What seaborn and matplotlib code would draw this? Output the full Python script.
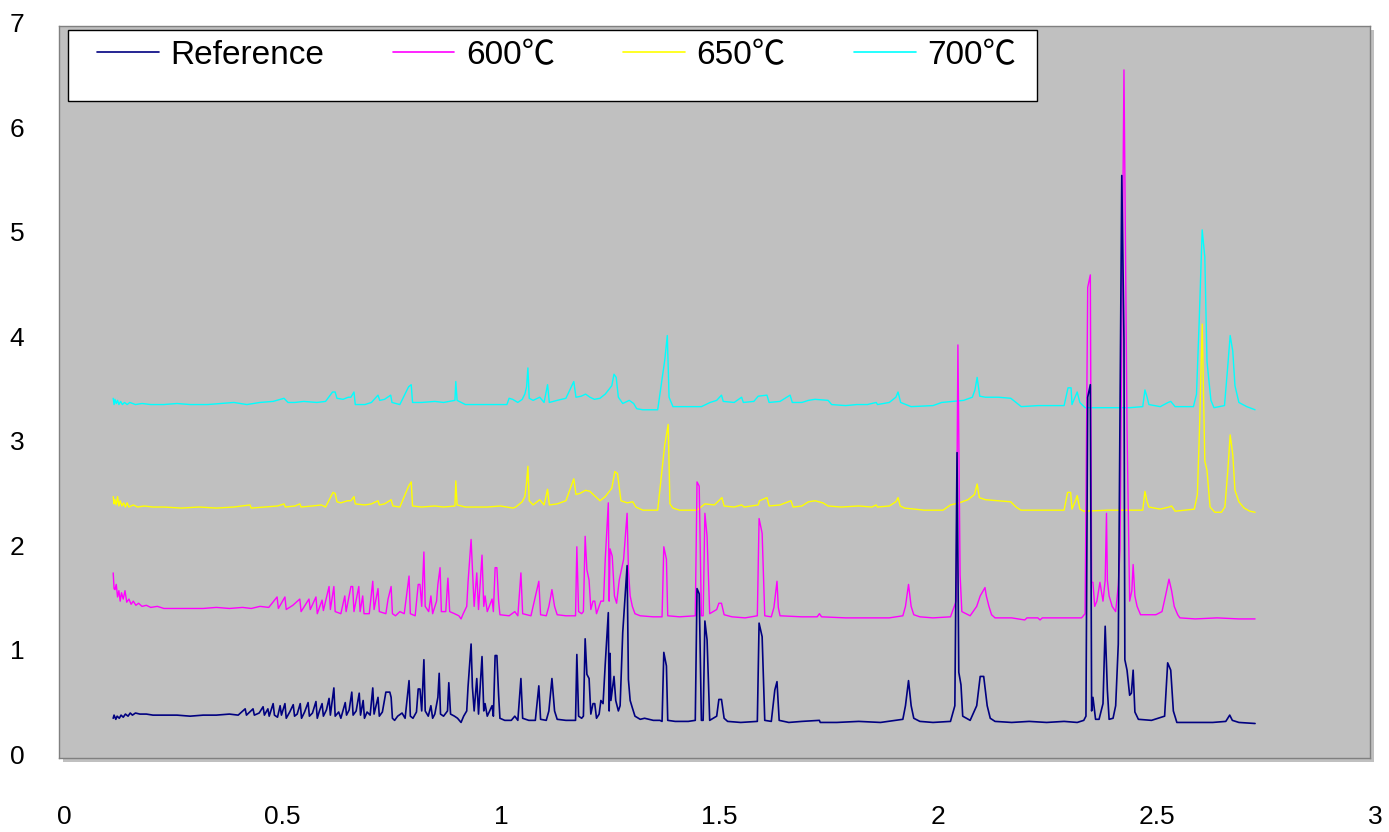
import matplotlib
matplotlib.use('Agg')
import matplotlib.pyplot as plt
from matplotlib.patches import Rectangle
from matplotlib.lines import Line2D
from matplotlib.transforms import ScaledTranslation
import seaborn as sns
import pandas as pd

sns.set_style('white')
plt.rcParams['font.family'] = ['Liberation Sans', 'Noto Sans CJK JP', 'DejaVu Sans']
plt.rcParams['text.color'] = 'black'
plt.rcParams['xtick.color'] = 'black'
plt.rcParams['ytick.color'] = 'black'

series_names = ['Reference', '600℃', '650℃', '700℃']
series_colors = ['#000080', '#FF00FF', '#FFFF00', '#00FFFF']

x_ticks = [0, 0.5, 1, 1.5, 2, 2.5, 3]
x_tick_labels = ['0', '0.5', '1', '1.5', '2', '2.5', '3']
y_ticks = [0, 1, 2, 3, 4, 5, 6, 7]

# Reference
ref_x = [0.124, 0.126, 0.130, 0.133, 0.138, 0.142, 0.147, 0.152, 0.158, 0.163, 0.168, 0.175, 0.185, 0.200,
         0.215, 0.240, 0.270, 0.300, 0.330, 0.360, 0.390, 0.410, 0.426, 0.429, 0.444, 0.447, 0.458, 0.467,
         0.470, 0.478, 0.481, 0.490, 0.493, 0.500, 0.506, 0.509, 0.517, 0.520, 0.528, 0.536, 0.539, 0.545,
         0.552, 0.555, 0.562, 0.570, 0.573, 0.580, 0.588, 0.591, 0.596, 0.602, 0.605, 0.612, 0.618, 0.621,
         0.629, 0.632, 0.640, 0.645, 0.655, 0.658, 0.664, 0.670, 0.673, 0.680, 0.687, 0.690, 0.696, 0.699,
         0.705, 0.712, 0.718, 0.721, 0.730, 0.733, 0.740, 0.748, 0.757, 0.760, 0.763, 0.768, 0.775, 0.785,
         0.792, 0.801, 0.804, 0.810, 0.818, 0.822, 0.826, 0.830, 0.835, 0.838, 0.845, 0.851, 0.855, 0.860,
         0.867, 0.870, 0.873, 0.880, 0.889, 0.892, 0.896, 0.905, 0.912, 0.920, 0.926, 0.933, 0.936, 0.943,
         0.946, 0.950, 0.956, 0.960, 0.968, 0.972, 0.975, 0.980, 0.991, 0.994, 0.998, 1.002, 1.006, 1.009,
         1.020, 1.035, 1.043, 1.050, 1.057, 1.061, 1.075, 1.090, 1.098, 1.102, 1.115, 1.121, 1.128, 1.134,
         1.140, 1.160, 1.182, 1.185, 1.189, 1.196, 1.200, 1.204, 1.208, 1.213, 1.217, 1.222, 1.226, 1.230,
         1.236, 1.240, 1.245, 1.250, 1.257, 1.259, 1.261, 1.263, 1.270, 1.274, 1.280, 1.284, 1.290, 1.300,
         1.303, 1.307, 1.312, 1.318, 1.330, 1.340, 1.360, 1.375, 1.380, 1.384, 1.390, 1.393, 1.410, 1.440,
         1.456, 1.460, 1.465, 1.470, 1.474, 1.478, 1.483, 1.489, 1.505, 1.510, 1.516, 1.522, 1.530, 1.560,
         1.598, 1.602, 1.609, 1.615, 1.630, 1.638, 1.643, 1.648, 1.670, 1.700, 1.740, 1.742, 1.780, 1.830,
         1.880, 1.931, 1.937, 1.944, 1.950, 1.956, 1.970, 2.000, 2.040, 2.050, 2.055, 2.059, 2.064, 2.068,
         2.085, 2.100, 2.108, 2.116, 2.124, 2.131, 2.142, 2.180, 2.220, 2.260, 2.300, 2.330, 2.345, 2.350,
         2.354, 2.360, 2.363, 2.366, 2.372, 2.380, 2.389, 2.394, 2.399, 2.403, 2.412, 2.418, 2.424, 2.432,
         2.437, 2.439, 2.444, 2.450, 2.454, 2.458, 2.462, 2.470, 2.500, 2.530, 2.537, 2.544, 2.550, 2.558,
         2.600, 2.640, 2.670, 2.676, 2.679, 2.685, 2.700, 2.737]
ref_y = [0.38, 0.41, 0.37, 0.40, 0.38, 0.41, 0.39, 0.42, 0.40, 0.43, 0.41, 0.43, 0.42, 0.42,
         0.41, 0.41, 0.41, 0.40, 0.41, 0.41, 0.42, 0.41, 0.47, 0.41, 0.47, 0.41, 0.43, 0.49,
         0.41, 0.47, 0.40, 0.52, 0.41, 0.39, 0.50, 0.41, 0.52, 0.38, 0.44, 0.51, 0.40, 0.42,
         0.52, 0.38, 0.44, 0.53, 0.40, 0.43, 0.54, 0.38, 0.45, 0.52, 0.40, 0.46, 0.57, 0.41,
         0.67, 0.40, 0.44, 0.38, 0.53, 0.41, 0.46, 0.63, 0.41, 0.45, 0.62, 0.41, 0.55, 0.38,
         0.44, 0.41, 0.67, 0.42, 0.58, 0.40, 0.44, 0.63, 0.63, 0.58, 0.38, 0.36, 0.40, 0.43,
         0.38, 0.74, 0.40, 0.38, 0.44, 0.66, 0.66, 0.45, 0.94, 0.45, 0.40, 0.50, 0.38, 0.42,
         0.58, 0.81, 0.42, 0.40, 0.45, 0.72, 0.42, 0.40, 0.38, 0.34, 0.40, 0.45, 0.68, 1.09,
         0.68, 0.45, 0.76, 0.42, 0.97, 0.45, 0.52, 0.40, 0.50, 0.40, 0.98, 0.98, 0.60, 0.38,
         0.36, 0.36, 0.40, 0.36, 0.76, 0.38, 0.36, 0.36, 0.69, 0.37, 0.36, 0.45, 0.76, 0.45,
         0.37, 0.36, 0.36, 0.99, 0.40, 0.38, 0.40, 1.14, 0.80, 0.76, 0.42, 0.52, 0.52, 0.38,
         0.42, 0.55, 0.52, 0.90, 1.39, 0.45, 1.00, 0.55, 0.78, 0.55, 0.45, 0.50, 1.20, 1.84,
         0.75, 0.55, 0.48, 0.40, 0.37, 0.38, 0.36, 0.36, 0.35, 1.01, 0.88, 0.36, 0.35, 0.35,
         0.36, 1.62, 1.57, 0.36, 0.36, 1.31, 1.13, 0.36, 0.40, 0.56, 0.56, 0.38, 0.35, 0.34,
         0.35, 1.29, 1.16, 0.36, 0.35, 0.65, 0.73, 0.36, 0.34, 0.35, 0.36, 0.34, 0.34, 0.35,
         0.34, 0.37, 0.50, 0.74, 0.50, 0.38, 0.35, 0.34, 0.35, 0.50, 2.92, 0.82, 0.70, 0.40,
         0.36, 0.50, 0.78, 0.78, 0.50, 0.38, 0.35, 0.34, 0.35, 0.34, 0.35, 0.34, 0.36, 0.40,
         3.45, 3.57, 0.45, 0.58, 0.37, 0.37, 0.52, 1.26, 0.65, 0.37, 0.38, 0.50, 1.09, 5.57,
         4.00, 0.94, 0.84, 0.60, 0.62, 0.84, 0.44, 0.37, 0.36, 0.40, 0.91, 0.84, 0.45, 0.34,
         0.34, 0.34, 0.35, 0.39, 0.41, 0.36, 0.34, 0.33]

# 600 C
m600_x = [0.124, 0.126, 0.128, 0.131, 0.134, 0.137, 0.140, 0.143, 0.147, 0.151, 0.155, 0.160, 0.165, 0.170,
          0.176, 0.182, 0.190, 0.200, 0.210, 0.225, 0.240, 0.270, 0.300, 0.330, 0.360, 0.390, 0.420, 0.440,
          0.460, 0.480, 0.499, 0.502, 0.517, 0.520, 0.535, 0.551, 0.554, 0.572, 0.575, 0.588, 0.591, 0.602,
          0.605, 0.618, 0.621, 0.629, 0.632, 0.645, 0.654, 0.657, 0.668, 0.672, 0.675, 0.686, 0.689, 0.695,
          0.698, 0.710, 0.718, 0.721, 0.730, 0.733, 0.748, 0.753, 0.760, 0.763, 0.770, 0.780, 0.790, 0.801,
          0.804, 0.815, 0.822, 0.826, 0.830, 0.835, 0.838, 0.846, 0.851, 0.855, 0.864, 0.867, 0.872, 0.875,
          0.885, 0.890, 0.894, 0.905, 0.915, 0.920, 0.925, 0.933, 0.936, 0.943, 0.947, 0.950, 0.956, 0.960,
          0.968, 0.972, 0.975, 0.980, 0.991, 0.994, 0.998, 1.002, 1.006, 1.009, 1.030, 1.043, 1.050, 1.057,
          1.061, 1.080, 1.098, 1.102, 1.115, 1.121, 1.128, 1.134, 1.140, 1.160, 1.182, 1.185, 1.189, 1.196,
          1.200, 1.204, 1.208, 1.213, 1.217, 1.222, 1.226, 1.230, 1.240, 1.246, 1.250, 1.257, 1.259, 1.261,
          1.266, 1.271, 1.276, 1.282, 1.292, 1.300, 1.303, 1.307, 1.312, 1.318, 1.330, 1.360, 1.380, 1.384,
          1.390, 1.393, 1.420, 1.456, 1.460, 1.465, 1.470, 1.474, 1.478, 1.483, 1.489, 1.505, 1.510, 1.516,
          1.522, 1.540, 1.570, 1.598, 1.602, 1.609, 1.615, 1.630, 1.636, 1.643, 1.646, 1.650, 1.700, 1.735,
          1.740, 1.745, 1.800, 1.850, 1.900, 1.931, 1.937, 1.944, 1.950, 1.956, 1.970, 2.000, 2.040, 2.053,
          2.057, 2.062, 2.066, 2.085, 2.100, 2.108, 2.119, 2.122, 2.128, 2.134, 2.142, 2.180, 2.210, 2.215,
          2.240, 2.245, 2.250, 2.300, 2.340, 2.348, 2.354, 2.360, 2.363, 2.366, 2.370, 2.375, 2.382, 2.389,
          2.394, 2.397, 2.399, 2.403, 2.410, 2.418, 2.424, 2.428, 2.437, 2.444, 2.450, 2.455, 2.458, 2.462,
          2.467, 2.475, 2.510, 2.524, 2.532, 2.540, 2.546, 2.552, 2.560, 2.565, 2.600, 2.650, 2.700, 2.737]
m600_y = [1.77, 1.62, 1.61, 1.66, 1.54, 1.60, 1.50, 1.58, 1.52, 1.60, 1.49, 1.52, 1.47, 1.50,
          1.46, 1.48, 1.45, 1.46, 1.44, 1.45, 1.43, 1.43, 1.43, 1.43, 1.44, 1.43, 1.44, 1.43,
          1.45, 1.44, 1.54, 1.43, 1.54, 1.42, 1.46, 1.52, 1.40, 1.52, 1.42, 1.54, 1.38, 1.51,
          1.41, 1.64, 1.42, 1.64, 1.40, 1.38, 1.55, 1.40, 1.64, 1.64, 1.40, 1.64, 1.40, 1.55,
          1.38, 1.38, 1.69, 1.42, 1.62, 1.40, 1.38, 1.52, 1.64, 1.38, 1.36, 1.40, 1.38, 1.74,
          1.38, 1.36, 1.66, 1.66, 1.45, 1.97, 1.45, 1.40, 1.55, 1.38, 1.50, 1.66, 1.82, 1.40,
          1.40, 1.72, 1.40, 1.38, 1.36, 1.33, 1.38, 1.45, 1.68, 2.09, 1.72, 1.45, 1.77, 1.42,
          1.94, 1.45, 1.55, 1.40, 1.52, 1.40, 1.82, 1.82, 1.50, 1.37, 1.36, 1.40, 1.36, 1.77,
          1.38, 1.36, 1.69, 1.37, 1.36, 1.45, 1.61, 1.45, 1.37, 1.36, 1.36, 2.02, 1.40, 1.38,
          1.40, 2.12, 1.80, 1.70, 1.42, 1.50, 1.50, 1.38, 1.50, 1.50, 1.90, 2.44, 1.50, 2.00,
          1.93, 1.55, 1.48, 1.70, 1.90, 2.34, 1.80, 1.55, 1.45, 1.38, 1.36, 1.35, 1.35, 2.02,
          1.90, 1.36, 1.35, 1.36, 2.64, 2.60, 1.36, 1.36, 2.34, 2.12, 1.38, 1.42, 1.48, 1.48,
          1.37, 1.35, 1.34, 1.36, 2.29, 2.15, 1.36, 1.35, 1.44, 1.69, 1.44, 1.36, 1.35, 1.35,
          1.38, 1.35, 1.34, 1.34, 1.34, 1.36, 1.45, 1.66, 1.45, 1.37, 1.35, 1.34, 1.35, 1.50,
          3.95, 1.75, 1.40, 1.36, 1.45, 1.55, 1.63, 1.55, 1.45, 1.37, 1.34, 1.34, 1.32, 1.34,
          1.34, 1.32, 1.34, 1.34, 1.34, 1.38, 4.50, 4.62, 1.68, 1.68, 1.45, 1.50, 1.68, 1.50,
          1.70, 2.34, 1.70, 1.55, 1.45, 1.40, 1.65, 2.00, 6.58, 3.15, 1.50, 1.60, 1.85, 1.55,
          1.45, 1.37, 1.37, 1.40, 1.55, 1.71, 1.60, 1.45, 1.37, 1.34, 1.33, 1.34, 1.33, 1.33]

# 650 C
m650_x = [0.124, 0.126, 0.128, 0.131, 0.134, 0.137, 0.140, 0.144, 0.148, 0.152, 0.156, 0.160, 0.170, 0.180,
          0.195, 0.215, 0.240, 0.280, 0.320, 0.360, 0.400, 0.437, 0.440, 0.470, 0.500, 0.515, 0.518, 0.540,
          0.551, 0.554, 0.580, 0.600, 0.610, 0.627, 0.632, 0.636, 0.645, 0.660, 0.668, 0.675, 0.678, 0.700,
          0.715, 0.730, 0.733, 0.745, 0.760, 0.764, 0.780, 0.800, 0.806, 0.809, 0.830, 0.860, 0.880, 0.906,
          0.908, 0.911, 0.930, 0.950, 0.980, 1.010, 1.039, 1.045, 1.060, 1.066, 1.070, 1.073, 1.076, 1.085,
          1.100, 1.110, 1.118, 1.122, 1.140, 1.160, 1.178, 1.183, 1.192, 1.205, 1.215, 1.225, 1.238, 1.250,
          1.265, 1.272, 1.278, 1.286, 1.300, 1.313, 1.320, 1.336, 1.370, 1.386, 1.394, 1.398, 1.405, 1.420,
          1.460, 1.478, 1.500, 1.517, 1.522, 1.545, 1.562, 1.568, 1.600, 1.603, 1.620, 1.625, 1.650, 1.675,
          1.680, 1.700, 1.715, 1.730, 1.748, 1.760, 1.790, 1.830, 1.860, 1.870, 1.873, 1.900, 1.915, 1.920,
          1.925, 1.935, 1.980, 2.023, 2.040, 2.060, 2.080, 2.095, 2.101, 2.106, 2.120, 2.150, 2.178, 2.190,
          2.201, 2.240, 2.270, 2.300, 2.308, 2.315, 2.318, 2.326, 2.330, 2.336, 2.345, 2.400, 2.450, 2.480,
          2.485, 2.490, 2.494, 2.520, 2.540, 2.546, 2.554, 2.598, 2.605, 2.610, 2.616, 2.622, 2.627, 2.634,
          2.645, 2.660, 2.668, 2.675, 2.680, 2.686, 2.691, 2.700, 2.712, 2.725, 2.737]
m650_y = [2.50, 2.43, 2.47, 2.42, 2.50, 2.41, 2.46, 2.41, 2.44, 2.40, 2.44, 2.40, 2.42, 2.40,
          2.41, 2.40, 2.40, 2.39, 2.40, 2.39, 2.40, 2.42, 2.39, 2.40, 2.41, 2.43, 2.40, 2.41,
          2.43, 2.40, 2.41, 2.42, 2.40, 2.54, 2.53, 2.45, 2.44, 2.46, 2.46, 2.50, 2.43, 2.42,
          2.43, 2.46, 2.42, 2.43, 2.47, 2.41, 2.40, 2.60, 2.64, 2.41, 2.40, 2.41, 2.40, 2.41,
          2.65, 2.42, 2.40, 2.40, 2.40, 2.41, 2.39, 2.40, 2.45, 2.50, 2.64, 2.79, 2.46, 2.42,
          2.47, 2.42, 2.57, 2.42, 2.43, 2.46, 2.67, 2.52, 2.53, 2.56, 2.55, 2.51, 2.46, 2.50,
          2.58, 2.74, 2.72, 2.46, 2.44, 2.45, 2.40, 2.37, 2.37, 2.99, 3.19, 2.43, 2.39, 2.37,
          2.37, 2.43, 2.42, 2.49, 2.41, 2.40, 2.42, 2.40, 2.42, 2.46, 2.49, 2.41, 2.42, 2.46,
          2.40, 2.41, 2.45, 2.46, 2.44, 2.41, 2.40, 2.41, 2.40, 2.42, 2.40, 2.41, 2.45, 2.49,
          2.41, 2.39, 2.37, 2.37, 2.42, 2.44, 2.47, 2.52, 2.62, 2.49, 2.47, 2.46, 2.45, 2.40,
          2.37, 2.37, 2.37, 2.37, 2.54, 2.54, 2.38, 2.46, 2.51, 2.38, 2.36, 2.37, 2.37, 2.37,
          2.55, 2.45, 2.40, 2.38, 2.40, 2.41, 2.36, 2.38, 2.52, 3.17, 4.15, 2.84, 2.75, 2.40,
          2.35, 2.35, 2.40, 2.77, 3.09, 2.90, 2.56, 2.45, 2.39, 2.36, 2.35]

# 700 C
m700_x = [0.124, 0.126, 0.128, 0.131, 0.134, 0.137, 0.141, 0.145, 0.150, 0.156, 0.162, 0.175, 0.190, 0.210,
          0.240, 0.270, 0.300, 0.340, 0.370, 0.400, 0.430, 0.460, 0.490, 0.515, 0.524, 0.540, 0.560, 0.590,
          0.610, 0.626, 0.632, 0.636, 0.650, 0.662, 0.668, 0.675, 0.678, 0.700, 0.715, 0.730, 0.734, 0.745,
          0.759, 0.762, 0.780, 0.800, 0.806, 0.809, 0.830, 0.860, 0.880, 0.906, 0.908, 0.911, 0.930, 0.960,
          0.990, 1.025, 1.030, 1.038, 1.050, 1.060, 1.066, 1.070, 1.073, 1.076, 1.085, 1.100, 1.110, 1.118,
          1.122, 1.140, 1.160, 1.178, 1.183, 1.195, 1.205, 1.215, 1.225, 1.238, 1.250, 1.265, 1.270, 1.275,
          1.280, 1.290, 1.305, 1.315, 1.322, 1.336, 1.370, 1.386, 1.392, 1.396, 1.405, 1.430, 1.470, 1.490,
          1.505, 1.516, 1.520, 1.545, 1.562, 1.566, 1.590, 1.600, 1.620, 1.625, 1.650, 1.673, 1.678, 1.700,
          1.715, 1.730, 1.760, 1.768, 1.800, 1.826, 1.850, 1.870, 1.873, 1.900, 1.915, 1.920, 1.926, 1.950,
          2.000, 2.020, 2.045, 2.070, 2.090, 2.096, 2.101, 2.107, 2.120, 2.150, 2.178, 2.190, 2.202, 2.240,
          2.270, 2.300, 2.309, 2.316, 2.318, 2.326, 2.330, 2.336, 2.348, 2.400, 2.450, 2.480, 2.485, 2.490,
          2.494, 2.520, 2.538, 2.544, 2.554, 2.596, 2.603, 2.609, 2.616, 2.622, 2.627, 2.636, 2.643, 2.667,
          2.674, 2.680, 2.686, 2.691, 2.700, 2.718, 2.737]
m700_y = [3.44, 3.38, 3.43, 3.39, 3.42, 3.38, 3.41, 3.38, 3.40, 3.38, 3.40, 3.38, 3.39, 3.38,
          3.38, 3.39, 3.38, 3.38, 3.39, 3.40, 3.38, 3.40, 3.41, 3.44, 3.40, 3.40, 3.41, 3.40,
          3.41, 3.50, 3.50, 3.44, 3.43, 3.45, 3.45, 3.50, 3.38, 3.38, 3.40, 3.47, 3.42, 3.43,
          3.47, 3.40, 3.38, 3.55, 3.57, 3.40, 3.40, 3.41, 3.40, 3.42, 3.60, 3.42, 3.38, 3.38,
          3.38, 3.38, 3.44, 3.43, 3.40, 3.43, 3.48, 3.55, 3.73, 3.44, 3.42, 3.45, 3.40, 3.57,
          3.40, 3.42, 3.44, 3.60, 3.45, 3.46, 3.48, 3.45, 3.43, 3.44, 3.48, 3.56, 3.67, 3.64,
          3.45, 3.39, 3.42, 3.39, 3.34, 3.33, 3.33, 3.80, 4.04, 3.45, 3.36, 3.36, 3.36, 3.40,
          3.42, 3.47, 3.41, 3.40, 3.45, 3.40, 3.41, 3.46, 3.47, 3.40, 3.41, 3.47, 3.40, 3.40,
          3.42, 3.43, 3.42, 3.38, 3.37, 3.38, 3.38, 3.40, 3.38, 3.40, 3.45, 3.50, 3.40, 3.36,
          3.37, 3.40, 3.41, 3.42, 3.45, 3.52, 3.64, 3.46, 3.45, 3.45, 3.44, 3.40, 3.36, 3.37,
          3.37, 3.37, 3.54, 3.54, 3.38, 3.46, 3.50, 3.40, 3.35, 3.35, 3.35, 3.36, 3.52, 3.45,
          3.38, 3.36, 3.40, 3.41, 3.36, 3.36, 3.48, 4.16, 5.05, 4.79, 3.79, 3.42, 3.35, 3.37,
          3.72, 4.04, 3.89, 3.56, 3.40, 3.36, 3.33]

series_x = [ref_x, m600_x, m650_x, m700_x]
series_y = [ref_y, m600_y, m650_y, m700_y]

frames = []
for name, xs, ys in zip(series_names, series_x, series_y):
    frames.append(pd.DataFrame({'x': xs, 'y': ys, 'series': name}))
df = pd.concat(frames, ignore_index=True)

W, H = 1389, 832
fig = plt.figure(figsize=(W / 100, H / 100), dpi=100)
fig.patch.set_facecolor('white')

# plot area with a little drop shadow
left, bottom, width, height = 59 / W, 74 / H, 1311 / W, 732 / H
fig.patches.append(Rectangle((left + 4 / W, bottom - 4 / H), width, height, transform=fig.transFigure,
                             facecolor='#c0c0c0', edgecolor='none', zorder=-1))
ax = fig.add_axes([left, bottom, width, height])
ax.set_facecolor('#c0c0c0')

# later series drawn underneath, like the original
for i, name in enumerate(series_names):
    sub = df[df['series'] == name]
    sns.lineplot(data=sub, x='x', y='y', ax=ax, color=series_colors[i], sort=False, estimator=None,
                 linewidth=1.2 if i == 0 else 1.0, zorder=10 - i, legend=False)

ax.set_xlim(0, 3)
ax.set_ylim(0, 7)
ax.set_xticks(x_ticks)
ax.set_xticklabels(x_tick_labels)
ax.set_yticks(y_ticks)
ax.set_xlabel('')
ax.set_ylabel('')
ax.tick_params(axis='x', length=0, pad=34, labelsize=19, labelcolor='black')
ax.tick_params(axis='y', length=0, pad=25, labelsize=19, labelcolor='black')
# the original's labels sit a few pixels right / up of the ticks
for lab in ax.get_xticklabels():
    lab.set_transform(lab.get_transform() + ScaledTranslation(5 / 100, 0, fig.dpi_scale_trans))
for lab in ax.get_yticklabels():
    lab.set_transform(lab.get_transform() + ScaledTranslation(0, 3.5 / 100, fig.dpi_scale_trans))
for s in ax.spines.values():
    s.set_color('#808080')
    s.set_linewidth(1.0)
ax.grid(False)

# legend box (white, black frame) across the top of the plot area
fig.patches.append(Rectangle((68 / W, 1 - 101 / H), 969 / W, 71 / H, transform=fig.transFigure,
                             facecolor='white', edgecolor='black', linewidth=1.0, zorder=4))
handles = [Line2D([], [], color=c, linewidth=1.2) for c in series_colors]
leg = fig.legend(handles, series_names, loc='upper left', bbox_to_anchor=(97 / W, 1 - 40 / H), ncol=4,
                 frameon=False, fontsize=24, handlelength=1.85, handletextpad=0.35, columnspacing=2.05,
                 borderpad=0, borderaxespad=0)
leg.set_zorder(5)
for t in leg.get_texts():
    t.set_color('black')

fig.savefig('out.png', dpi=100, facecolor='white')
